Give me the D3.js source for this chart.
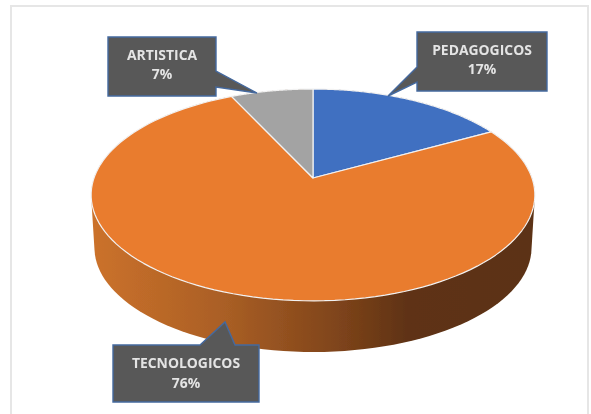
<!DOCTYPE html>
<html>
<head>
<meta charset="utf-8">
<script src="https://cdnjs.cloudflare.com/ajax/libs/d3/7.8.5/d3.min.js"></script>
<style>
    html, body { margin: 0; padding: 0; background: #fff; }
    svg { display: block; }
</style>
</head>
<body>
<div id="chart"></div>
<script>
const categories = ["PEDAGOGICOS", "TECNOLOGICOS", "ARTISTICA"];
const shares = [17, 76, 7];
const colors = ["#4170c1", "#e97b2f", "#a3a3a3"];

const width = 591, height = 414;

// pie centre on the page and the fake 3d perspective
const cx = 313, cy = 178;
const radiusX = 219, radiusY = 103.2, tilt = 0.16;
const depth = 53, bottomScale = 0.985;

// callouts: box, then the tail (two base points and the tip)
const callouts = [
    { box: [417, 32, 130, 59], tail: [[417, 67], [388, 96], [417, 82]], lineY: [55, 74] },
    { box: [113, 345, 146, 57], tail: [[200, 345], [225, 322], [235, 345]], lineY: [368, 388] },
    { box: [108, 37, 108, 59], tail: [[216, 71], [257, 93], [216, 87]], lineY: [59.5, 79] }
];

const svg = d3.select("#chart").append("svg")
    .attr("width", width)
    .attr("height", height);

const defs = svg.append("defs");

// slight softness, the source picture is a scaled screenshot
defs.append("filter")
    .attr("id", "soft")
    .attr("x", "-5%").attr("y", "-5%").attr("width", "110%").attr("height", "110%")
    .append("feGaussianBlur")
    .attr("stdDeviation", 0.6);

// shading of the pie wall, left -> right
const wallX = d3.scaleLinear().domain([0, 1]).range([90, 535]);
const wall = defs.append("linearGradient")
    .attr("id", "wall")
    .attr("gradientUnits", "userSpaceOnUse")
    .attr("x1", wallX(0)).attr("x2", wallX(1))
    .attr("y1", 0).attr("y2", 0);
[[0, "#cc722b"], [0.3, "#aa5f25"], [0.55, "#80451b"], [0.72, "#5e3213"], [1, "#5c3112"]]
    .forEach(s => wall.append("stop").attr("offset", s[0]).attr("stop-color", s[1]));

const root = svg.append("g").attr("filter", "url(#soft)");

// page frame around the chart
root.append("path")
    .attr("d", `M11 ${height} V6 H${width - 3} V${height}`)
    .attr("fill", "none")
    .attr("stroke", "#e6e6e6")
    .attr("stroke-width", 2);

// angle on the pie -> point on the page
function project(a, offset = 0, scale = 1) {
    const u = Math.sin(a), v = Math.cos(a);
    const w = 1 + tilt * v;
    return [cx + scale * radiusX * u / w, cy + offset - scale * radiusY * v / w];
}

const slices = d3.pie().sort(null)(shares);
const line = d3.line();

function rimAngles(d) {
    return d3.range(0, 121).map(i => d.startAngle + (d.endAngle - d.startAngle) * i / 120);
}

// wall first, the top face paints over whatever is behind it
root.append("g")
    .selectAll("path")
    .data(slices)
    .join("path")
    .attr("d", d => {
        const top = rimAngles(d).map(a => project(a));
        const bottom = rimAngles(d).map(a => project(a, depth, bottomScale));
        return line(d3.polygonHull(top.concat(bottom))) + "Z";
    })
    .attr("fill", "url(#wall)");

root.append("g")
    .selectAll("path")
    .data(slices)
    .join("path")
    .attr("d", d => line([[cx, cy]].concat(rimAngles(d).map(a => project(a)))) + "Z")
    .attr("fill", (d, i) => colors[i])
    .attr("stroke", "#f2f2f2")
    .attr("stroke-width", 1.2)
    .attr("stroke-linejoin", "round");

const labels = root.append("g")
    .selectAll("g")
    .data(callouts)
    .join("g");

labels.append("path")
    .attr("d", d => {
        const [x, y, w, h] = d.box;
        // walk the box clockwise and cut the tail in on the side it leaves from
        const pts = [[x, y], [x + w, y], [x + w, y + h], [x, y + h]];
        const [p0] = d.tail;
        let side = 0;
        if (p0[1] === y) side = 0;
        else if (p0[0] === x + w) side = 1;
        else side = 3;
        const out = [];
        pts.forEach((p, i) => {
            out.push(p);
            if (i === side) out.push(...(side === 3 ? d.tail.slice().reverse() : d.tail));
        });
        return line(out) + "Z";
    })
    .attr("fill", "#595959")
    .attr("stroke", "#44699f")
    .attr("stroke-width", 1.4)
    .attr("stroke-linejoin", "miter");

labels.each(function (d, i) {
    const g = d3.select(this);
    const mid = d.box[0] + d.box[2] / 2;
    [categories[i], `${shares[i]}%`].forEach((t, k) => {
        g.append("text")
            .attr("x", mid)
            .attr("y", d.lineY[k])
            .attr("text-anchor", "middle")
            .attr("font-family", "'Open Sans', sans-serif")
            .attr("font-weight", 700)
            .attr("font-size", 13.9)
            .attr("fill", "#e4e4e4")
            .text(t);
    });
});
</script>
</body>
</html>
